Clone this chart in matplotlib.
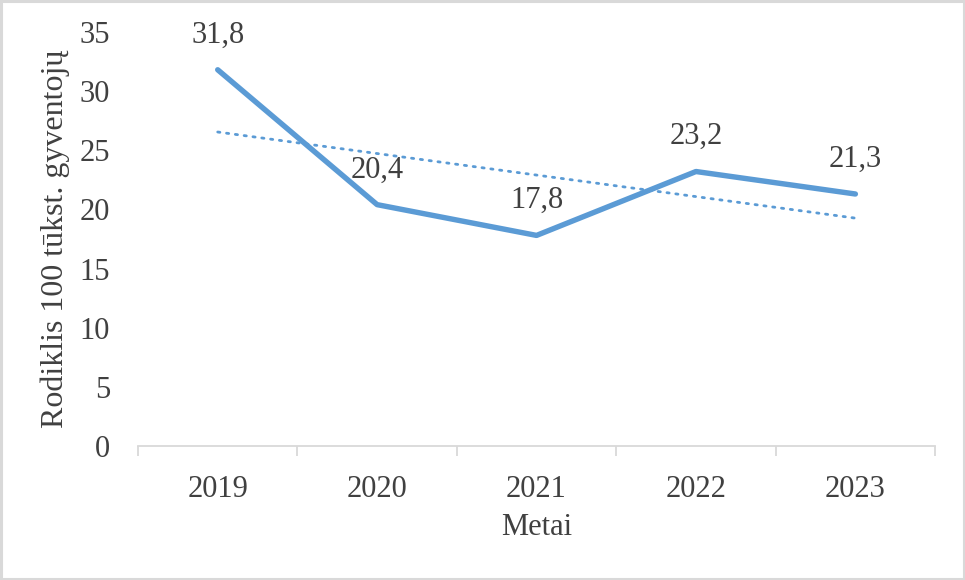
import numpy as np
import matplotlib
matplotlib.use("Agg")
import matplotlib.pyplot as plt
from matplotlib.patches import Rectangle

# data
years = ["2019", "2020", "2021", "2022", "2023"]
values = [31.8, 20.4, 17.8, 23.2, 21.3]

plt.rcParams['font.family'] = ['Liberation Serif', 'DejaVu Serif']

line_col = "#5B9BD5"
txt_col = "#404040"
fs = 22

fig = plt.figure(figsize=(9.65, 5.8), dpi=100)
ax = fig.add_axes([0.143, 0.231, 0.826, 0.714])

x = np.arange(len(years))
ax.plot(x, values, color=line_col, linewidth=3.9, solid_capstyle="round",
        solid_joinstyle="round", zorder=3)

# linear trendline (like Excel)
k, b = np.polyfit(x + 1, values, 1)
ax.plot(x, k * (x + 1) + b, color=line_col, linewidth=2.0, linestyle=(0, (0.8, 2.4)),
        dash_capstyle="round", zorder=2)

for xi, v in zip(x, values):
    ax.annotate(("%.1f" % v).replace(".", ","), (xi, v), xytext=(0, 25),
                textcoords="offset points", ha="center", va="center",
                fontsize=fs, color=txt_col)

ax.set_xlim(-0.5, len(years) - 0.5)
ax.set_ylim(0, 35)
ax.set_yticks(range(0, 36, 5))
ax.set_xticks(x)
ax.set_xticklabels(years)
ax.set_xticks(np.arange(-0.5, len(years)), minor=True)

for s in ["left", "right", "top"]:
    ax.spines[s].set_visible(False)
ax.spines["bottom"].set_color("#d9d9d9")
ax.spines["bottom"].set_linewidth(1.3)

ax.tick_params(axis="y", length=0, pad=20, labelsize=fs, labelcolor=txt_col)
ax.tick_params(axis="x", which="major", length=0, pad=21, labelsize=fs,
               labelcolor=txt_col)
ax.tick_params(axis="x", which="minor", length=7, width=1.3, color="#d9d9d9")

ax.set_ylabel("Rodiklis 100 tūkst. gyventojų", fontsize=23, color=txt_col,
              labelpad=7)
ax.set_xlabel("Metai", fontsize=fs, color=txt_col, labelpad=6)

# border round the whole picture
fig.patches.append(Rectangle((0.0015, 0.0025), 0.997, 0.995, transform=fig.transFigure,
                             fill=False, edgecolor="#d9d9d9", linewidth=2.2))

fig.savefig("out.png", dpi=100)
